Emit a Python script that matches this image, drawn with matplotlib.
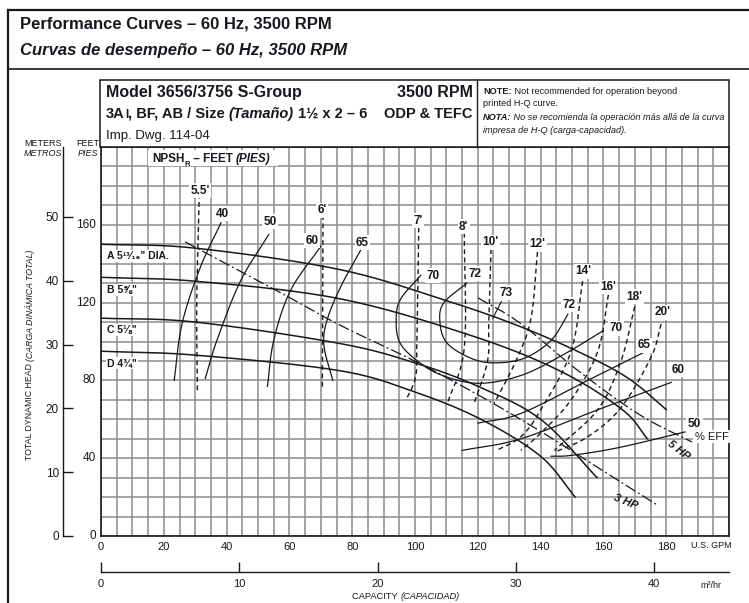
import numpy as np
import matplotlib
matplotlib.use("Agg")
import matplotlib.pyplot as plt
from matplotlib.patches import Rectangle
import matplotlib.transforms as mtransforms

plt.rcParams['font.family'] = ['Liberation Sans', 'DejaVu Sans']

INK = '#17171f'
GRID = '#8c8c8c'

# ---- axis ticks ----
gpm_ticks = [0, 20, 40, 60, 80, 100, 120, 140, 160, 180]
ft_ticks = [0, 40, 80, 120, 160]
m_ticks = [0, 10, 20, 30, 40, 50]
m3h_ticks = [0, 10, 20, 30, 40]

# ---- impeller head curves (GPM, feet) ----
dia_labels = ['A 5\u00b9\u00b3\u2044\u2081\u2086" DIA.', 'B 5\u215d"', 'C 5\u215b"', 'D 4\u00be"']
head_A_q = [0, 30, 76, 110, 133, 153, 168, 180]
head_A_h = [150, 148, 137, 121, 108, 94, 81, 65]
head_B_q = [0, 30, 76, 118, 146, 166, 174]
head_B_h = [133, 131, 122, 103, 85, 65, 50]
head_C_q = [0, 30, 76, 100, 120, 140, 158]
head_C_h = [112, 110, 99, 89, 77, 60, 30]
head_D_q = [0, 30, 76, 100, 121, 140, 151]
head_D_h = [95, 93, 85, 74, 60, 41, 20]

# ---- efficiency curves (GPM, feet) ----
eff40_q = [38.2, 31.6, 25.8, 23.3]
eff40_h = [161, 138, 109, 80]
eff50_q = [53.4, 44.4, 36.9, 33.2]
eff50_h = [155, 131, 100.5, 81]
eff60_q = [70.0, 60.3, 55.0, 53.0]
eff60_h = [149, 126, 100.5, 77]
eff65_q = [82.7, 76.3, 72.0, 71.0, 73.8]
eff65_h = [147, 128, 111, 98, 80]
eff70_q = [101.8, 95.5, 94.0, 95.0, 100.0, 108.0, 120.0, 133.7, 147.0, 160.0]
eff70_h = [134, 122, 112, 100, 91, 83, 78.5, 82.5, 93, 105.6]
eff72_q = [116.5, 109.0, 108.0, 110.3, 117.8, 125.2, 134.8, 143.3, 148.7]
eff72_h = [130, 119.5, 109, 99, 91.4, 89, 91.4, 100.5, 114]
eff65r_q = [173.0, 155.0, 133.7, 120.0]
eff65r_h = [94.5, 80, 63, 58]
eff60r_q = [181.6, 160.0, 133.7, 115.0]
eff60r_h = [79, 66, 50, 44]
eff50r_q = [186.0, 165.0, 150.0, 143.3]
eff50r_h = [53.5, 45.5, 41.5, 41]

# ---- motor power limits (GPM, feet) ----
hp5_q = [120.1, 133.4, 152.5, 171.7, 188.2]
hp5_h = [122.4, 109.5, 84.3, 62.2, 48.3]
hp3_q = [26.8, 58.0, 76.1, 100.6, 120.7, 139.8, 159.0, 177.1]
hp3_h = [151.2, 124.4, 108.4, 89.4, 72.0, 54.0, 34.4, 16.0]

# ---- NPSHr curves (GPM, feet) ----
npsh_labels = ["5.5'", "6'", "7'", "8'", "10'", "12'", "14'", "16'", "18'", "20'"]
npsh_q = [
    [31.3, 30.5, 30.7],
    [70.7, 70.6, 70.5],
    [101.2, 100.6, 100.2, 97.5],
    [115.7, 115.7, 110.3],
    [124.2, 123.5, 123.1, 118.8],
    [139.0, 137.0, 132.7, 125.2],
    [153.4, 149.7, 140.1, 133.7, 126.0],
    [161.6, 158.2, 149.7, 140.1, 133.7],
    [170.0, 165.6, 158.2, 144.4],
    [178.4, 175.2, 165.6, 155.0, 144.4],
]
npsh_h = [
    [176, 120, 75],
    [165, 120, 75],
    [158.6, 100, 82, 71],
    [156, 97, 68],
    [147.5, 110, 90, 68],
    [146, 112.5, 92, 68],
    [131, 95, 65, 51, 44],
    [124, 95, 70, 53, 44],
    [118, 90, 65, 44],
    [109, 92, 66, 51, 43],
]


def smooth(xs, ys, n=30):
    """Catmull-Rom curve through the given points."""
    p = np.column_stack([xs, ys]).astype(float)
    if len(p) < 3:
        return p[:, 0], p[:, 1]
    p = np.vstack([2 * p[0] - p[1], p, 2 * p[-1] - p[-2]])
    segs = []
    t = np.linspace(0, 1, n, endpoint=False)[:, None]
    for i in range(1, len(p) - 2):
        p0, p1, p2, p3 = p[i - 1], p[i], p[i + 1], p[i + 2]
        segs.append(0.5 * (2 * p1 + (-p0 + p2) * t
                           + (2 * p0 - 5 * p1 + 4 * p2 - p3) * t ** 2
                           + (-p0 + 3 * p1 - 3 * p2 + p3) * t ** 3))
    segs.append(p[-2][None, :])
    out = np.vstack(segs)
    return out[:, 0], out[:, 1]


W, H = 749, 603
fig = plt.figure(figsize=(W / 100, H / 100), dpi=100)
fig.patch.set_facecolor('white')

# main chart area, in pixel placement
x0, x1, yb, yt = 101, 729, 536, 147
ax = fig.add_axes([x0 / W, (H - yb) / H, (x1 - x0) / W, (yb - yt) / H])
ax.set_xlim(0, 200)
ax.set_ylim(0, 200)
ax.set_xticks(gpm_ticks)
ax.set_xticks(np.arange(0, 201, 5), minor=True)
ax.set_yticks(np.arange(0, 201, 10))
ax.set_yticklabels([])
ax.tick_params(axis='both', which='both', length=0)
ax.tick_params(axis='x', labelsize=8, pad=4, colors=INK)
ax.grid(which='both', color=GRID, lw=1.1)
ax.set_axisbelow(True)
for s in ax.spines.values():
    s.set_color(INK)
    s.set_linewidth(1.2)

# feet labels on the left edge
ylab_tr = mtransforms.blended_transform_factory(ax.transAxes, ax.transData)
for v in ft_ticks:
    ax.text(-0.008, v, str(v), transform=ylab_tr, ha='right', va='center',
            fontsize=8.5, color=INK)

# metres axis
secy = ax.secondary_yaxis(-38 / (x1 - x0), functions=(lambda f: f * 0.3048, lambda m: m / 0.3048))
secy.set_yticks(m_ticks)
secy.tick_params(direction='in', length=7, width=1, labelsize=8.5, pad=3, colors=INK)
secy.spines['left'].set_color(INK)
secy.spines['left'].set_linewidth(1)

# cubic metres per hour axis
secx = ax.secondary_xaxis(-36 / (yb - yt), functions=(lambda q: q / 4.4029, lambda m: m * 4.4029))
secx.set_xticks(m3h_ticks)
secx.tick_params(direction='in', length=7, width=1, labelsize=8, pad=5, colors=INK)
secx.spines['bottom'].set_color(INK)
secx.spines['bottom'].set_linewidth(1)

# head curves
for q, h in [(head_A_q, head_A_h), (head_B_q, head_B_h), (head_C_q, head_C_h), (head_D_q, head_D_h)]:
    xs, ys = smooth(q, h)
    ax.plot(xs, ys, color=INK, lw=1.1, zorder=3)

# efficiency curves
for q, h in [(eff40_q, eff40_h), (eff50_q, eff50_h), (eff60_q, eff60_h), (eff65_q, eff65_h),
             (eff70_q, eff70_h), (eff72_q, eff72_h), (eff65r_q, eff65r_h),
             (eff60r_q, eff60r_h), (eff50r_q, eff50r_h)]:
    xs, ys = smooth(q, h)
    ax.plot(xs, ys, color=INK, lw=0.9, zorder=3)

# horsepower lines
for q, h in [(hp5_q, hp5_h), (hp3_q, hp3_h)]:
    xs, ys = smooth(q, h)
    ax.plot(xs, ys, color=INK, lw=0.9, ls=(0, (9, 2.5, 1.5, 2.5)), zorder=3)

# NPSHr curves
for q, h in zip(npsh_q, npsh_h):
    xs, ys = smooth(q, h)
    ax.plot(xs, ys, color=INK, lw=1.0, ls=(0, (3.5, 2.5)), zorder=3)

box = dict(boxstyle='square,pad=0.12', fc='white', ec='none')
lab = dict(fontsize=8.5, fontweight='bold', color=INK, ha='center', va='center', zorder=5, bbox=box)

# efficiency labels
eff_text = ['40', '50', '60', '65', '70', '72', '73', '72', '70', '65', '60']
eff_lab_q = [38.6, 53.9, 67.3, 83.3, 105.6, 119.0, 129.0, 149.0, 164.0, 173.0, 183.8]
eff_lab_h = [165.6, 161.5, 151.8, 150.8, 133.8, 134.9, 125.0, 119.0, 106.7, 98.0, 85.6]
for s, q, h in zip(eff_text, eff_lab_q, eff_lab_h):
    ax.text(q, h, s, **lab)
# pointer to the best-efficiency point
ax.plot([127.5, 124.8], [120.5, 112.0], color=INK, lw=0.8, zorder=4)
ax.text(189.0, 57.5, '50', **lab)
ax.text(194.5, 51.0, '% EFF', fontsize=8, color=INK, ha='center', va='center', zorder=5, bbox=box)

# NPSHr labels
npsh_lab_q = [31.6, 70.5, 101.0, 115.5, 124.0, 139.0, 153.5, 161.5, 169.8, 179.0]
npsh_lab_h = [177.5, 167.5, 162.0, 159.0, 151.0, 150.0, 136.0, 128.0, 123.0, 115.0]
for s, q, h in zip(npsh_labels, npsh_lab_q, npsh_lab_h):
    ax.text(q, h, s, **lab)

# impeller labels
dia_h = [144.0, 126.5, 106.0, 89.0]
for s, h in zip(dia_labels, dia_h):
    ax.text(2.0, h, s, fontsize=7.5, fontweight='bold', color=INK, ha='left', va='center',
            zorder=5, bbox=box)

# horsepower labels
ax.text(184.0, 44.0, '5 HP', fontsize=8, fontweight='bold', style='italic', color=INK,
        rotation=-38, ha='center', va='center', zorder=5)
ax.text(167.0, 17.5, '3 HP', fontsize=8, fontweight='bold', style='italic', color=INK,
        rotation=-22, ha='center', va='center', zorder=5)

# ---- overlay in pixel coordinates for frame and header ----
ov = fig.add_axes([0, 0, 1, 1], zorder=10)
ov.set_xlim(0, W)
ov.set_ylim(H, 0)
ov.axis('off')
ov.patch.set_alpha(0)

ov.plot([8, W], [10, 10], color=INK, lw=1.6)
ov.plot([8, 8], [10, H], color=INK, lw=1.6)
ov.plot([8, W], [69, 69], color=INK, lw=1.2)

ov.text(20, 24, 'Performance Curves \u2013 60 Hz, 3500 RPM', fontsize=12, fontweight='bold',
        color=INK, va='center')
ov.text(20, 50, 'Curvas de desempe\u00f1o \u2013 60 Hz, 3500 RPM', fontsize=12, fontweight='bold',
        style='italic', color=INK, va='center')

ov.add_patch(Rectangle((100, 80), 629, 67, fc='white', ec=INK, lw=1.1, zorder=2))
ov.plot([477, 477], [80, 147], color=INK, lw=1.0, zorder=3)


def chain(x, y, pieces, size, **extra):
    t = ov.text(x, y, pieces[0][0], fontsize=pieces[0][1].get('fontsize', size), color=INK,
                va='bottom', ha='left', zorder=4,
                **{k: v for k, v in pieces[0][1].items() if k != 'fontsize'}, **extra)
    for s, kw in pieces[1:]:
        kw = dict(kw)
        fs = kw.pop('fontsize', size)
        t = ov.annotate(s, xy=(1, 0), xycoords=t, va='bottom', ha='left', fontsize=fs,
                        color=INK, zorder=4, **kw, **extra)
    return t


ov.text(106, 100, 'Model 3656/3756 S-Group', fontsize=11.5, fontweight='bold', color=INK,
        va='bottom', zorder=4)
ov.text(473, 100, '3500 RPM', fontsize=11.5, fontweight='bold', color=INK, ha='right',
        va='bottom', zorder=4)
B = dict(fontweight='bold')
chain(106, 121, [('3A', B), ('I', dict(fontweight='bold', fontsize=8.5)),
                 (', BF, AB / Size ', B), ('(Tama\u00f1o)', dict(fontweight='bold', style='italic')),
                 (' 1\u00bd x 2 \u2013 6', B)], 10.5)
ov.text(473, 121, 'ODP & TEFC', fontsize=10.5, fontweight='bold', color=INK, ha='right',
        va='bottom', zorder=4)
ov.text(106, 142, 'Imp. Dwg. 114-04', fontsize=9.5, color=INK, va='bottom', zorder=4)

chain(483, 96, [('NOTE:', B), (' Not recommended for operation beyond', {})], 6.6)
ov.text(483, 108, 'printed H-Q curve.', fontsize=6.6, color=INK, va='bottom', zorder=4)
chain(483, 122, [('NOTA:', dict(fontweight='bold', style='italic')),
                 (' No se recomienda la operaci\u00f3n m\u00e1s all\u00e1 de la curva', dict(style='italic'))], 6.6)
ov.text(483, 135, 'impresa de H-Q (carga-capacidad).', fontsize=6.6, style='italic', color=INK,
        va='bottom', zorder=4)

# NPSHr title strip
ov.add_patch(Rectangle((148, 150), 130, 16, fc='white', ec='none', zorder=3))
t = chain(152, 165, [('NPSH', B)], 8.5)
t = ov.annotate('R', xy=(1, 0), xycoords=t, xytext=(0, -2), textcoords='offset points',
                va='bottom', ha='left', fontsize=5.5, fontweight='bold', color=INK, zorder=4)
t = ov.annotate(' \u2013 FEET ', xy=(1, 0), xycoords=t, xytext=(0, 2), textcoords='offset points',
                va='bottom', ha='left', fontsize=8.5, fontweight='bold', color=INK, zorder=4)
ov.annotate('(PIES)', xy=(1, 0), xycoords=t, va='bottom', ha='left', fontsize=8.5,
            fontweight='bold', style='italic', color=INK, zorder=4)

# axis captions
ov.text(43, 143, 'METERS', fontsize=6.5, color=INK, ha='center', va='center')
ov.text(43, 153, 'METROS', fontsize=6.5, style='italic', color=INK, ha='center', va='center')
ov.text(88, 143, 'FEET', fontsize=6.5, color=INK, ha='center', va='center')
ov.text(88, 153, 'PIES', fontsize=6.5, style='italic', color=INK, ha='center', va='center')
t = ov.text(30, 460, 'TOTAL DYNAMIC HEAD ', fontsize=6.3, color=INK, rotation=90,
            ha='center', va='bottom')
ov.annotate('(CARGA DIN\u00c1MICA TOTAL)', xy=(0.5, 1), xycoords=t, fontsize=6.3, style='italic',
            color=INK, rotation=90, ha='center', va='bottom')
ov.text(711, 546, 'U.S. GPM', fontsize=6.5, color=INK, ha='center', va='center')
ov.text(711, 586, 'm\u00b3/hr', fontsize=6.5, color=INK, ha='center', va='center')
chain(352, 601, [('CAPACITY ', {}), ('(CAPACIDAD)', dict(style='italic'))], 6.7)

fig.savefig('out.png', dpi=100, facecolor='white')
